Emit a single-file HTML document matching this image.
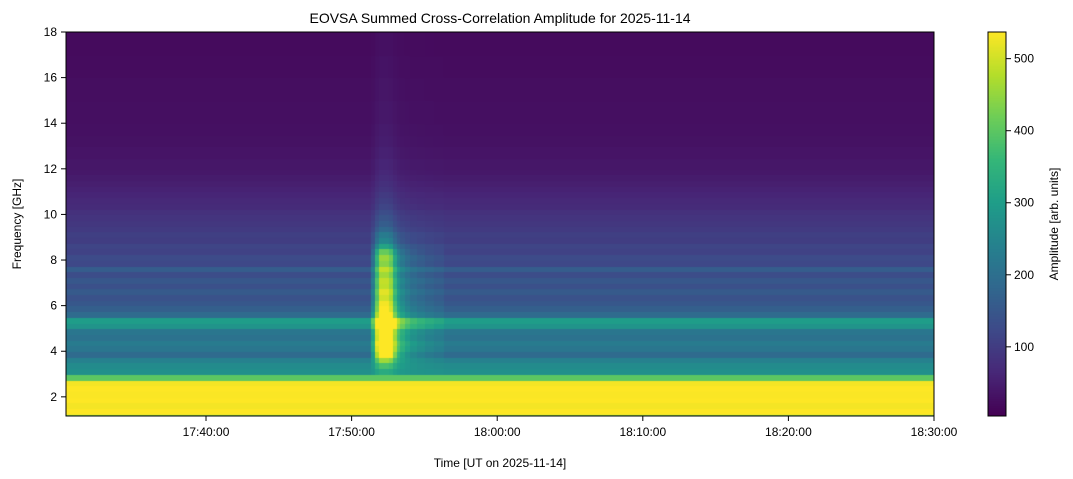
<!DOCTYPE html>
<html><head><meta charset="utf-8">
<style>
body{margin:0;background:#fff;width:1073px;height:479px;overflow:hidden;font-family:"Liberation Sans",sans-serif;}
#wrap{position:relative;width:1073px;height:479px;}
svg{position:absolute;left:0;top:0;}
canvas{position:absolute;}
</style></head><body>
<div id="wrap">
<canvas id="hm" width="868" height="384" style="left:66px;top:32px"></canvas>
<canvas id="cb" width="18" height="384" style="left:988px;top:32px"></canvas>
<svg id="ax" width="1073" height="479"></svg>
</div>
<script>
// Data
const freqBinsGHz=[1.0,1.25,1.5,1.75,2.0,2.25,2.5,2.75,3.0,3.25,3.5,3.75,4.0,4.25,4.5,4.75,5.0,5.25,5.5,5.75,6.0,6.25,6.5,6.75,7.0,7.25,7.5,7.75,8.0,8.25,8.5,8.75,9.0,9.25,9.5,9.75,10.0,10.25,10.5,10.75,11.0,11.25,11.5,11.75,12.0,12.5,13.0,13.5,14.0,15.0,16.0,17.0];
const baseline=[420,540,530,540,535,540,530,400,270,260,240,190,215,225,205,215,280,300,190,165,150,140,155,135,150,130,160,120,125,110,115,100,105,95,90,85,80,70,65,60,55,50,45,40,38,34,30,28,26,24,22,20];
const burstSpectrum=[0,0,0,0,0,0,0,0,60,120,220,400,420,430,420,420,440,450,400,380,380,360,360,350,340,330,330,320,330,300,200,150,120,90,70,60,50,45,40,35,30,28,26,24,22,20,18,16,14,12,10,8];
const burstTimeSec=[1260,1275,1290,1305,1320,1335,1350,1365,1380,1400,1420,1450,1480,1520,1560];
const burstProfile=[0.25,0.7,1.0,1.0,1.0,0.9,0.6,0.4,0.3,0.22,0.16,0.12,0.08,0.05,0];
const xTickLabels=["17:40:00","17:50:00","18:00:00","18:10:00","18:20:00","18:30:00"];
const xTickSec=[577,1177,1777,2377,2977,3577];
const yTickLabels=[2,4,6,8,10,12,14,16,18];
const cbTicks=[100,200,300,400,500];

const T0=0,T1=3577,F0=1.16,F1=18,V0=4,V1=537;
const X=s=>(s-T0)/(T1-T0)*868;
const Y=f=>(F1-f)/(F1-F0)*384;
const CY=v=>(V1-v)/(V1-V0)*384;
const vir=[[68,1,84],[72,40,120],[62,74,137],[49,104,142],[38,130,142],[31,158,137],[53,183,121],[110,206,88],[181,222,43],[253,231,37]];
function cmap(t){t=Math.max(0,Math.min(1,t));const p=t*9,i=Math.min(8,Math.floor(p)),r=p-i;const a=vir[i],b=vir[i+1];return `rgb(${a[0]+(b[0]-a[0])*r|0},${a[1]+(b[1]-a[1])*r|0},${a[2]+(b[2]-a[2])*r|0})`;}
function burstAt(s){for(let i=0;i<burstTimeSec.length;i++){if(s<burstTimeSec[i])return i==0?0:burstProfile[i-1];}return 0;}
const hm=document.getElementById('hm').getContext('2d');
const colW=5;
for(let s=T0;s<T1;s+=colW){
  const b=burstAt(s);
  for(let k=0;k<freqBinsGHz.length;k++){
    const fLo=freqBinsGHz[k],fHi=k+1<freqBinsGHz.length?freqBinsGHz[k+1]:18;
    const v=baseline[k]+b*burstSpectrum[k];
    hm.fillStyle=cmap((v-V0)/(V1-V0));
    const x0=X(s),x1=X(s+colW),y0=Y(fHi),y1=Y(fLo);
    hm.fillRect(Math.floor(x0),Math.floor(y0),Math.ceil(x1-x0)+1,Math.ceil(y1-y0)+1);
  }
}
const cb=document.getElementById('cb').getContext('2d');
for(let y=0;y<384;y++){cb.fillStyle=cmap(1-y/383);cb.fillRect(0,y,18,1);}
const svg=document.getElementById('ax'),NS='http://www.w3.org/2000/svg';
function el(t,a,txt){const e=document.createElementNS(NS,t);for(const k in a)e.setAttribute(k,a[k]);if(txt!==undefined)e.textContent=txt;svg.appendChild(e);return e;}
let e=el('rect',{x:66,y:32,width:868,height:384,fill:'none',stroke:'#000','stroke-width':1});

e=el('rect',{x:988,y:32,width:18,height:384,fill:'none',stroke:'#000','stroke-width':1});

xTickSec.forEach((s,i)=>{const x=66+X(s);
 e=el('line',{x1:x,x2:x,y1:416,y2:421,stroke:'#000'});
 e=el('text',{x:x,y:436,'text-anchor':'middle','font-size':12},xTickLabels[i]);});
yTickLabels.forEach(f=>{const y=32+Y(f);
 e=el('line',{x1:61,x2:66,y1:y,y2:y,stroke:'#000'});
 e=el('text',{x:57,y:y+4,'text-anchor':'end','font-size':12},f);});
cbTicks.forEach(v=>{const y=32+CY(v);
 e=el('line',{x1:1006,x2:1011,y1:y,y2:y,stroke:'#000'});
 e=el('text',{x:1014,y:y+4,'font-size':12},v);});
e=el('text',{x:500,y:23,'text-anchor':'middle','font-size':14},'EOVSA Summed Cross-Correlation Amplitude for 2025-11-14');
e=el('text',{x:500,y:467,'text-anchor':'middle','font-size':12},'Time [UT on 2025-11-14]');
e=el('text',{x:21,y:224,'text-anchor':'middle','font-size':12,transform:'rotate(-90 21 224)'},'Frequency [GHz]');
e=el('text',{x:1058,y:224,'text-anchor':'middle','font-size':12,transform:'rotate(-90 1058 224)'},'Amplitude [arb. units]');
</script>
</body></html>
